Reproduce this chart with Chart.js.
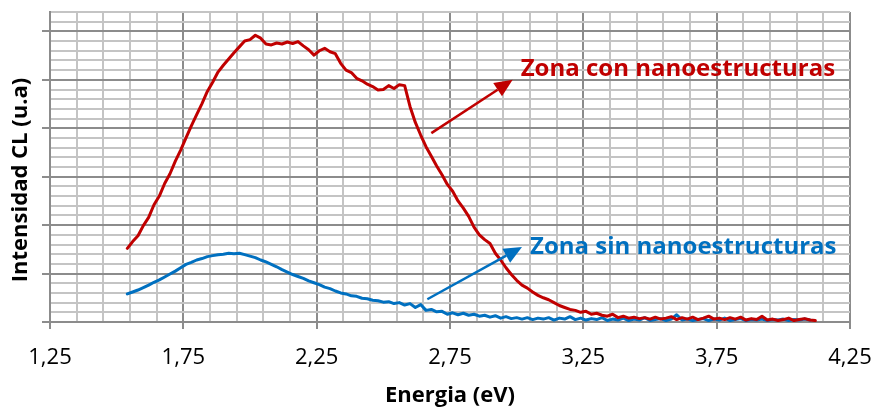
<!DOCTYPE html>
<html>
<head>
<meta charset="utf-8">
<script src="https://cdn.jsdelivr.net/npm/chart.js@4.4.0/dist/chart.umd.min.js"></script>
<style>
  html, body { margin: 0; padding: 0; background: #fff; }
  #wrap { width: 875px; height: 408px; }
</style>
</head>
<body>
<div id="wrap"><canvas id="chart"></canvas></div>
<script>
// Energia (eV)
const energia = [
  1.54,1.56,1.58,1.60,1.62,1.64,1.66,1.68,1.70,1.72,
  1.74,1.76,1.78,1.80,1.82,1.84,1.86,1.88,1.90,1.92,
  1.94,1.96,1.98,2.00,2.02,2.04,2.06,2.08,2.10,2.12,
  2.14,2.16,2.18,2.20,2.22,2.24,2.26,2.28,2.30,2.32,
  2.34,2.36,2.38,2.40,2.42,2.44,2.46,2.48,2.50,2.52,
  2.54,2.56,2.58,2.60,2.62,2.64,2.66,2.68,2.70,2.72,
  2.74,2.76,2.78,2.80,2.82,2.84,2.86,2.88,2.90,2.92,
  2.94,2.96,2.98,3.00,3.02,3.04,3.06,3.08,3.10,3.12,
  3.14,3.16,3.18,3.20,3.22,3.24,3.26,3.28,3.30,3.32,
  3.34,3.36,3.38,3.40,3.42,3.44,3.46,3.48,3.50,3.52,
  3.54,3.56,3.58,3.60,3.62,3.64,3.66,3.68,3.70,3.72,
  3.74,3.76,3.78,3.80,3.82,3.84,3.86,3.88,3.90,3.92,
  3.94,3.96,3.98,4.00,4.02,4.04,4.06,4.08,4.10,4.12
];

// Zona con nanoestructuras
const conNano = [
  1.52,1.66,1.78,1.99,2.16,2.42,2.60,2.86,3.06,3.32,
  3.55,3.80,4.05,4.28,4.51,4.76,4.95,5.16,5.30,5.43,
  5.56,5.68,5.80,5.83,5.92,5.86,5.74,5.72,5.76,5.74,
  5.78,5.75,5.79,5.70,5.62,5.51,5.60,5.65,5.58,5.54,
  5.34,5.20,5.15,5.03,4.98,4.91,4.86,4.79,4.80,4.88,
  4.82,4.90,4.88,4.45,4.12,3.86,3.62,3.42,3.22,3.04,
  2.84,2.70,2.50,2.35,2.18,1.96,1.80,1.70,1.62,1.42,
  1.28,1.12,0.98,0.86,0.76,0.70,0.62,0.55,0.50,0.46,
  0.40,0.34,0.30,0.26,0.24,0.20,0.22,0.16,0.18,0.14,
  0.12,0.16,0.09,0.12,0.08,0.10,0.07,0.09,0.06,0.10,
  0.06,0.08,0.11,0.05,0.09,0.06,0.10,0.05,0.08,0.12,
  0.06,0.08,0.05,0.09,0.06,0.10,0.04,0.07,0.05,0.12,
  0.04,0.06,0.03,0.05,0.08,0.03,0.05,0.07,0.04,0.03
];

// Zona sin nanoestructuras
const sinNano = [
  0.58,0.62,0.66,0.71,0.76,0.82,0.87,0.93,0.99,1.05,
  1.12,1.19,1.23,1.28,1.31,1.35,1.37,1.39,1.40,1.42,
  1.41,1.42,1.39,1.36,1.33,1.28,1.24,1.19,1.14,1.08,
  1.03,0.98,0.94,0.90,0.85,0.81,0.77,0.72,0.69,0.64,
  0.60,0.58,0.54,0.53,0.49,0.48,0.45,0.44,0.41,0.42,
  0.38,0.40,0.35,0.38,0.30,0.36,0.24,0.26,0.21,0.22,
  0.16,0.19,0.15,0.18,0.14,0.16,0.12,0.14,0.10,0.13,
  0.08,0.11,0.07,0.09,0.06,0.09,0.05,0.08,0.06,0.09,
  0.04,0.08,0.06,0.11,0.05,0.08,0.04,0.07,0.05,0.09,
  0.03,0.06,0.04,0.08,0.03,0.06,0.04,0.09,0.03,0.05,
  0.07,0.03,0.06,0.15,0.04,0.06,0.03,0.05,0.07,0.03,
  0.06,0.04,0.08,0.03,0.05,0.07,0.03,0.05,0.04,0.06,
  0.03,0.05,0.04,0.06,0.03,0.05,0.04,0.06,0.04,null
];

// vertical grid every 0.1 eV, labelled every 0.5 eV
const xGrid = [
  1.25,1.35,1.45,1.55,1.65,1.75,1.85,1.95,2.05,2.15,
  2.25,2.35,2.45,2.55,2.65,2.75,2.85,2.95,3.05,3.15,
  3.25,3.35,3.45,3.55,3.65,3.75,3.85,3.95,4.05,4.15,4.25
];

const ROJO = '#c00000';
const AZUL = '#0070c0';
const MAJOR = '#8c8c8c';
const MINOR = '#c4c4c4';

const notas = [
  { texto: 'Zona con nanoestructuras', color: ROJO, desde: [2.68, 3.90], hasta: [2.985, 5.0], en: [3.015, 5.21] },
  { texto: 'Zona sin nanoestructuras', color: AZUL, desde: [2.665, 0.47], hasta: [3.02, 1.55], en: [3.05, 1.55] }
];

const isMajorX = (v) => {
  const k = (v - 1.25) / 0.5;
  return Math.abs(k - Math.round(k)) < 1e-6;
};
const isMajorY = (v) => Math.abs(v - Math.round(v)) < 1e-6;

const flechas = {
  id: 'flechas',
  afterDatasetsDraw(chart) {
    const { ctx, scales: { x, y } } = chart;
    ctx.save();
    notas.forEach(n => {
      const x0 = x.getPixelForValue(n.desde[0]), y0 = y.getPixelForValue(n.desde[1]);
      const x1 = x.getPixelForValue(n.hasta[0]), y1 = y.getPixelForValue(n.hasta[1]);
      const ang = Math.atan2(y1 - y0, x1 - x0);
      const len = 18, half = 8;
      const bx = x1 - len * Math.cos(ang), by = y1 - len * Math.sin(ang);
      ctx.strokeStyle = n.color;
      ctx.fillStyle = n.color;
      ctx.lineWidth = 2.5;
      ctx.beginPath();
      ctx.moveTo(x0, y0);
      ctx.lineTo(bx, by);
      ctx.stroke();
      ctx.beginPath();
      ctx.moveTo(x1, y1);
      ctx.lineTo(bx + half * Math.sin(ang), by - half * Math.cos(ang));
      ctx.lineTo(bx - half * Math.sin(ang), by + half * Math.cos(ang));
      ctx.closePath();
      ctx.fill();

      ctx.font = "bold 24px 'Open Sans'";
      ctx.textAlign = 'left';
      ctx.textBaseline = 'middle';
      ctx.fillText(n.texto, x.getPixelForValue(n.en[0]), y.getPixelForValue(n.en[1]));
    });

    // y axis title, sits a little below the axis centre as in the original
    ctx.translate(21, 180);
    ctx.rotate(-Math.PI / 2);
    ctx.font = "bold 22px 'Open Sans'";
    ctx.fillStyle = '#000';
    ctx.textAlign = 'center';
    ctx.textBaseline = 'middle';
    ctx.fillText('Intensidad CL (u.a)', 0, 0);
    ctx.restore();
  }
};

Chart.defaults.font.family = "'Open Sans', sans-serif";
Chart.defaults.color = '#000';

const canvas = document.getElementById('chart').getContext('2d');

const chart = new Chart(canvas, {
  type: 'line',
  data: {
    datasets: [
      {
        label: 'Zona con nanoestructuras',
        data: energia.map((e, i) => ({ x: e, y: conNano[i] })),
        borderColor: ROJO,
        borderWidth: 3
      },
      {
        label: 'Zona sin nanoestructuras',
        data: energia.map((e, i) => ({ x: e, y: sinNano[i] })),
        borderColor: AZUL,
        borderWidth: 3
      }
    ]
  },
  options: {
    responsive: true,
    maintainAspectRatio: false,
    animation: false,
    layout: { padding: { top: 12, right: 25, left: 0, bottom: 0 } },
    elements: {
      point: { radius: 0 },
      line: { tension: 0, borderJoinStyle: 'round', borderCapStyle: 'round' }
    },
    plugins: {
      legend: { display: false },
      tooltip: { enabled: false }
    },
    scales: {
      x: {
        type: 'linear',
        min: 1.25,
        max: 4.25,
        afterBuildTicks: (scale) => { scale.ticks = xGrid.map(v => ({ value: v })); },
        afterFit: (scale) => {
          scale.height = 86;
          scale.paddingLeft = 0;
          scale.paddingRight = 0;
        },
        ticks: {
          autoSkip: false,
          maxRotation: 0,
          padding: 16,
          font: { size: 22 },
          callback: (v) => isMajorX(v) ? v.toFixed(2).replace('.', ',') : ''
        },
        grid: {
          color: (c) => isMajorX(c.tick.value) ? MAJOR : MINOR,
          lineWidth: 2,
          tickLength: 7,
          tickColor: (c) => isMajorX(c.tick.value) ? MAJOR : 'rgba(0,0,0,0)'
        },
        border: { color: MAJOR, width: 2 },
        title: {
          display: true,
          text: 'Energia (eV)',
          font: { size: 22, weight: 'bold' },
          padding: { top: 0, bottom: -1 }
        }
      },
      y: {
        min: 0,
        max: 6.4,
        afterFit: (scale) => { scale.width = 50; },
        ticks: {
          stepSize: 0.2,
          autoSkip: false,
          callback: () => ''
        },
        grid: {
          color: (c) => isMajorY(c.tick.value) ? MAJOR : MINOR,
          lineWidth: 2,
          tickLength: 8,
          tickColor: (c) => isMajorY(c.tick.value) ? MAJOR : 'rgba(0,0,0,0)'
        },
        border: { color: MAJOR, width: 2 }
      }
    }
  },
  plugins: [flechas]
});
</script>
</body>
</html>
